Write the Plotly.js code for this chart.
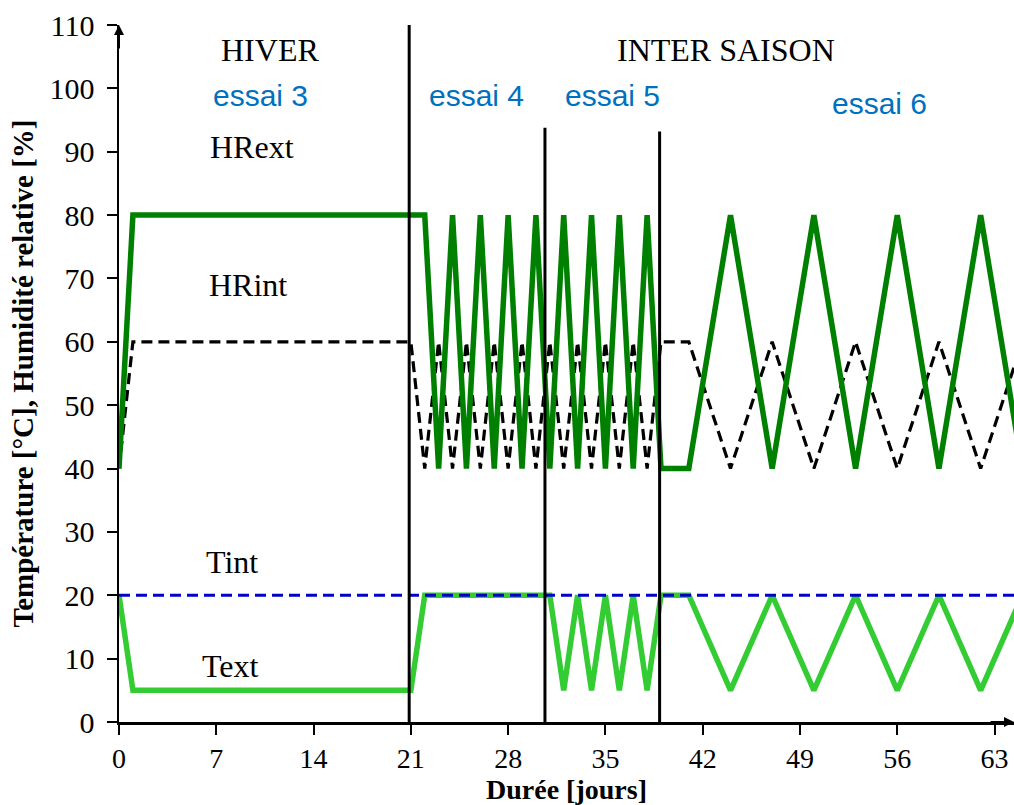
<!DOCTYPE html>
<html>
<head>
<meta charset="utf-8">
<script src="https://cdn.plot.ly/plotly-3.0.1.min.js"></script>
<style>html,body{margin:0;padding:0;background:#fff;}#chart{width:1014px;height:805px;}</style>
</head>
<body>
<div id="chart"></div>
<script>
// HRext (dark green)
const hrextX = [0,1,22,23,24,25,26,27,28,29,30,31,32,33,34,35,36,37,38,39,41,44,47,50,53,56,59,62,65];
const hrextY = [40,80,80,40,80,40,80,40,80,40,80,40,80,40,80,40,80,40,80,40,40,80,40,80,40,80,40,80,40];
// HRint (black dashed)
const hrintX = [0,1,21,22,23,24,25,26,27,28,29,30,31,32,33,34,35,36,37,38,39,41,44,47,50,53,56,59,62,65];
const hrintY = [40,60,60,40,60,40,60,40,60,40,60,40,60,40,60,40,60,40,60,40,60,60,40,60,40,60,40,60,40,60];
// Text (light green)
const textX = [0,1,21,22,31,32,33,34,35,36,37,38,39,41,44,47,50,53,56,59,62,65];
const textY = [20,5,5,20,20,5,20,5,20,5,20,5,20,20,5,20,5,20,5,20,5,20];
// Tint (blue dashed)
const tintX = [0,65];
const tintY = [20,20];
// period dividers
const dividerX = [20.88, 30.65, 38.9];
const dividerTop = [110.5, 93.8, 93.2];
// tick values
const xTicks = [0,7,14,21,28,35,42,49,56,63];
const yTicks = [0,10,20,30,40,50,60,70,80,90,100,110];
// labels
const blackLabels = ["HIVER","INTER SAISON","HRext","HRint","Tint","Text"];
const blackLabelX = [10.86, 43.7, 9.6, 9.3, 8.1, 8.0];
const blackLabelY = [106.1, 106.1, 90.8, 69.0, 25.2, 8.8];
const blueLabels = ["essai 3","essai 4","essai 5","essai 6"];
const blueLabelX = [10.2, 25.7, 35.5, 54.7];
const blueLabelY = [98.8, 98.8, 98.8, 97.6];

const traces = [
  {x: hrintX, y: hrintY, mode:'lines', line:{color:'#000000', width:3.2, dash:'11px,6px'}, name:'HRint'},
  {x: hrextX, y: hrextY, mode:'lines', line:{color:'#008000', width:5.5}, name:'HRext'},
  {x: textX, y: textY, mode:'lines', line:{color:'#33cc33', width:5.5}, name:'Text'},
  {x: tintX, y: tintY, mode:'lines', line:{color:'#0000c8', width:3.2, dash:'11px,6px'}, name:'Tint'}
];

const shapes = dividerX.map((xv,i)=>({
  type:'line', xref:'x', yref:'y', x0:xv, x1:xv, y0:0, y1:dividerTop[i],
  line:{color:'#000000', width:3}, layer:'above'
}));

const annotations = [];
blackLabels.forEach((t,i)=>annotations.push({
  x: blackLabelX[i], y: blackLabelY[i], xref:'x', yref:'y', text:t, showarrow:false,
  xanchor:'center', yanchor:'middle',
  font:{family:'Liberation Serif, serif', size:32, color:'#000000'}
}));
blueLabels.forEach((t,i)=>annotations.push({
  x: blueLabelX[i], y: blueLabelY[i], xref:'x', yref:'y', text:t, showarrow:false,
  xanchor:'center', yanchor:'middle',
  font:{family:'Liberation Sans, Arial, sans-serif', size:30, color:'#0070c0'}
}));
// axis arrows
annotations.push({x:0, y:110, xref:'x', yref:'y', ax:0, ay:25, showarrow:true, arrowhead:2, arrowsize:1, arrowwidth:2, arrowcolor:'#000', text:''});
annotations.push({x:64.4, y:0, xref:'x', yref:'y', ax:-25, ay:0, showarrow:true, arrowhead:2, arrowsize:1, arrowwidth:2, arrowcolor:'#000', text:''});

const layout = {
  width:1014, height:805,
  margin:{l:119, r:0, t:25, b:83, pad:0},
  paper_bgcolor:'#ffffff', plot_bgcolor:'#ffffff',
  showlegend:false,
  xaxis:{
    range:[0,64.4], tickvals:xTicks, ticktext:xTicks.map(String),
    showgrid:false, zeroline:false, showline:true, linecolor:'#000', linewidth:2.5,
    ticks:'outside', ticklen:10, tickwidth:2, tickcolor:'#000', ticklabelstandoff:0,
    tickfont:{family:'Liberation Serif, serif', size:28, color:'#000'},
    title:{text:'<b>Durée [jours]</b>', standoff:8, font:{family:'Liberation Serif, serif', size:28, color:'#000'}}
  },
  yaxis:{
    range:[0,110], tickvals:yTicks, ticktext:yTicks.map(String),
    showgrid:false, zeroline:false, showline:true, linecolor:'#000', linewidth:2.5,
    ticks:'outside', ticklen:10, tickwidth:2, tickcolor:'#000', ticklabelstandoff:6,
    tickfont:{family:'Liberation Serif, serif', size:30, color:'#000'},
    title:{text:'<b>Température [°C], Humidité relative [%]</b>', standoff:8, font:{family:'Liberation Serif, serif', size:29, color:'#000'}}
  },
  shapes: shapes,
  annotations: annotations
};

Plotly.newPlot('chart', traces, layout, {displayModeBar:false, staticPlot:true});
</script>
</body>
</html>
